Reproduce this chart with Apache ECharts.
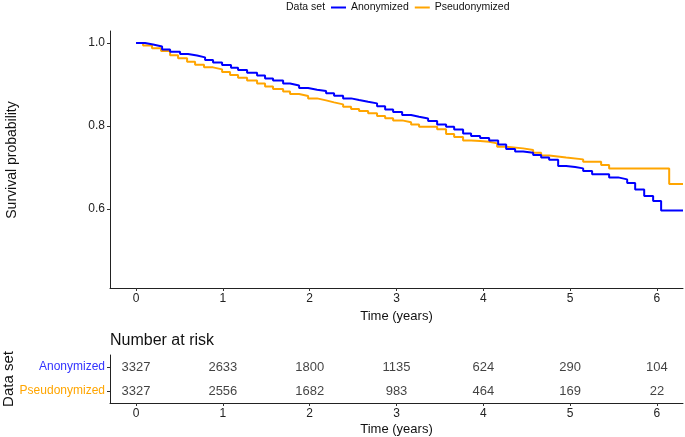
<!DOCTYPE html>
<html>
<head>
<meta charset="utf-8">
<script src="https://cdn.jsdelivr.net/npm/echarts@6/dist/echarts.min.js"></script>
<style>html,body{margin:0;padding:0;background:#fff}#c{width:685px;height:437px}</style>
</head>
<body>
<div id="c"></div>
<script>
// ---- Data ----
const seriesNames = ['Anonymized', 'Pseudonymized'];
const seriesColors = ['#0000FF', '#FFA500'];

const anonTimes = [0, 0.104, 0.196, 0.300, 0.392, 0.507, 0.599, 0.703, 0.795, 0.887, 0.991,
  1.094, 1.175, 1.279, 1.394, 1.486, 1.578, 1.694, 1.774, 1.878, 1.982,
  2.085, 2.189, 2.281, 2.385, 2.477, 2.569, 2.673, 2.776, 2.869, 2.961,
  3.065, 3.168, 3.260, 3.364, 3.468, 3.571, 3.664, 3.767, 3.859, 3.963,
  4.067, 4.171, 4.263, 4.366, 4.459, 4.574, 4.666, 4.758, 4.862, 4.954,
  5.058, 5.150, 5.253, 5.449, 5.553, 5.657, 5.749, 5.853, 5.956, 6.048, 6.30];
const anonSurv = [1, 0.9964, 0.9916, 0.9843, 0.9790, 0.9735, 0.9699, 0.9655, 0.9590, 0.9530, 0.9470,
  0.9405, 0.9349, 0.9284, 0.9217, 0.9145, 0.9096, 0.9024, 0.8976, 0.8916, 0.8875,
  0.8843, 0.8788, 0.8730, 0.8667, 0.8627, 0.8586, 0.8547, 0.8475, 0.8398, 0.8337,
  0.8265, 0.8224, 0.8181, 0.8120, 0.8041, 0.7983, 0.7920, 0.7824, 0.7764, 0.7711,
  0.7651, 0.7559, 0.7446, 0.7390, 0.7357, 0.7301, 0.7241, 0.7188, 0.7036, 0.7012,
  0.6981, 0.6916, 0.6839, 0.6764, 0.6716, 0.6627, 0.6475, 0.6313, 0.6193, 0.5964, 0.5964];

const pseudoTimes = [0, 0.081, 0.184, 0.288, 0.392, 0.484, 0.588, 0.680, 0.783, 0.887, 0.991,
  1.083, 1.175, 1.279, 1.394, 1.486, 1.578, 1.694, 1.774, 1.878, 1.982,
  2.085, 2.189, 2.281, 2.385, 2.477, 2.569, 2.673, 2.776, 2.869, 2.961,
  3.065, 3.168, 3.260, 3.468, 3.571, 3.664, 3.767, 3.859, 3.963,
  4.067, 4.159, 4.263, 4.459, 4.574, 4.666, 4.758, 4.954,
  5.150, 5.357, 5.449, 6.141, 6.30];
const pseudoSurv = [1, 0.9940, 0.9872, 0.9807, 0.9704, 0.9631, 0.9549, 0.9477, 0.9414, 0.9366, 0.9301,
  0.9229, 0.9164, 0.9096, 0.9024, 0.8952, 0.8892, 0.8831, 0.8771, 0.8723, 0.8667,
  0.8619, 0.8571, 0.8523, 0.8465, 0.8410, 0.8361, 0.8306, 0.8241, 0.8186, 0.8137,
  0.8092, 0.8041, 0.7983, 0.7923, 0.7807, 0.7735, 0.7651, 0.7639, 0.7622,
  0.7583, 0.7501, 0.7463, 0.7422, 0.7357, 0.7289, 0.7241, 0.7198,
  0.7140, 0.7060, 0.6981, 0.6602, 0.6602];

const xTicks = [0, 1, 2, 3, 4, 5, 6];
const yTicks = [0.6, 0.8, 1.0];
const riskTimes = [0, 1, 2, 3, 4, 5, 6];
const riskAnon = [3327, 2633, 1800, 1135, 624, 290, 104];
const riskPseudo = [3327, 2556, 1682, 983, 464, 169, 22];

// ---- Chart ----
const FONT = '"Liberation Sans", Arial, Helvetica, sans-serif';
const chart = echarts.init(document.getElementById('c'), null, {renderer: 'canvas'});

const zip = (a, b) => a.map((v, i) => [v, b[i]]);
const axisLineStyle = {show: true, onZero: false, lineStyle: {color: '#222', width: 1}};
const tickStyle = {show: true, length: 3, inside: false, lineStyle: {color: '#333', width: 1}};

const riskData = [];
riskTimes.forEach((t, i) => {
  riskData.push([t, seriesNames[0], riskAnon[i]]);
  riskData.push([t, seriesNames[1], riskPseudo[i]]);
});

const xAxisCommon = (grid) => ({
  type: 'value', gridIndex: grid, min: -0.3, max: 6.3,
  axisLine: axisLineStyle,
  axisTick: Object.assign({customValues: xTicks}, tickStyle),
  axisLabel: {customValues: xTicks, fontSize: 12, color: '#222', margin: 5},
  splitLine: {show: false},
  name: 'Time (years)', nameLocation: 'middle', nameGap: 20,
  nameTextStyle: {fontSize: 13, color: '#111'}
});

const option = {
  animation: false,
  textStyle: {fontFamily: FONT},
  legend: {
    left: 326, top: -3,
    icon: 'rect',
    itemWidth: 15, itemHeight: 2, itemGap: 6,
    textStyle: {fontSize: 10.5, color: '#111', fontFamily: FONT},
    data: seriesNames
  },
  grid: [
    {left: 110, right: 2, top: 31, height: 257, containLabel: false},
    {left: 110, right: 2, top: 355, height: 48, containLabel: false}
  ],
  xAxis: [xAxisCommon(0), xAxisCommon(1)],
  yAxis: [
    {
      type: 'value', gridIndex: 0, min: 0.41, max: 1.029,
      axisLine: axisLineStyle,
      axisTick: Object.assign({customValues: yTicks}, tickStyle),
      axisLabel: {customValues: yTicks, fontSize: 12, color: '#222', margin: 5,
        formatter: v => v.toFixed(1)},
      splitLine: {show: false}
    },
    {
      type: 'category', gridIndex: 1, inverse: true,
      data: seriesNames,
      axisLine: axisLineStyle,
      axisTick: Object.assign({alignWithLabel: true}, tickStyle),
      axisLabel: {
        fontSize: 12, margin: 5,
        formatter: v => v === seriesNames[0] ? '{a|' + v + '}' : '{b|' + v + '}',
        rich: {
          a: {color: '#3333FF', fontSize: 12, fontFamily: FONT},
          b: {color: '#FFA500', fontSize: 12, fontFamily: FONT}
        }
      },
      splitLine: {show: false}
    }
  ],
  graphic: [
    {type: 'text', left: 286, top: 2, style: {text: 'Data set', fontSize: 10.5, fill: '#111', fontFamily: FONT}},
    {type: 'text', x: 5, y: 160, rotation: Math.PI / 2,
      style: {text: 'Survival probability', fontSize: 14, fill: '#111', fontFamily: FONT,
        align: 'center', verticalAlign: 'top'}},
    {type: 'text', x: 1, y: 379, rotation: Math.PI / 2,
      style: {text: 'Data set', fontSize: 15, fill: '#111', fontFamily: FONT,
        align: 'center', verticalAlign: 'top'}},
    {type: 'text', left: 110, top: 333, style: {text: 'Number at risk', fontSize: 16, fill: '#111', fontFamily: FONT}}
  ],
  series: [
    {
      name: seriesNames[0], type: 'line', step: 'end', xAxisIndex: 0, yAxisIndex: 0,
      showSymbol: false, symbol: 'none',
      lineStyle: {color: seriesColors[0], width: 2}, itemStyle: {color: seriesColors[0]},
      data: zip(anonTimes, anonSurv), z: 3
    },
    {
      name: seriesNames[1], type: 'line', step: 'end', xAxisIndex: 0, yAxisIndex: 0,
      showSymbol: false, symbol: 'none',
      lineStyle: {color: seriesColors[1], width: 2}, itemStyle: {color: seriesColors[1]},
      data: zip(pseudoTimes, pseudoSurv), z: 2
    },
    {
      name: 'risk', type: 'scatter', xAxisIndex: 1, yAxisIndex: 1,
      symbolSize: 1, itemStyle: {color: 'rgba(0,0,0,0)'},
      label: {show: true, position: 'inside', formatter: p => String(p.value[2]),
        fontSize: 13, color: '#111', fontFamily: FONT},
      data: riskData, silent: true
    }
  ]
};
chart.setOption(option);
</script>
</body>
</html>
